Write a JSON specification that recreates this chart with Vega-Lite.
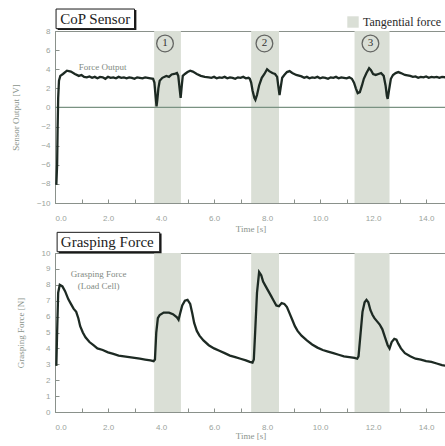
{
"$schema": "https://vega.github.io/schema/vega-lite/v6.json",
"padding": {"left": 10, "top": 8, "right": 0, "bottom": 0},
"background": "white",
"spacing": -3,
"config": {
 "view": {"stroke": "#8a918b", "strokeWidth": 1},
 "axis": {"labelFont": "Liberation Sans", "labelFontSize": 8, "labelColor": "#9aa39c", "labelOverlap": false, "titleFont": "Liberation Serif", "titleFontSize": 9, "titleColor": "#8a948c", "titleFontWeight": "normal", "domainColor": "#8a918b", "tickColor": "#8a918b", "grid": false, "tickSize": -4}
},
"datasets": {
 "one": [{}],
 "bands": [{"start": 3.74, "end": 4.75}, {"start": 7.4, "end": 8.45}, {"start": 11.3, "end": 12.62}],
 "marks": [{"t": 4.15, "n": "1"}, {"t": 7.9, "n": "2"}, {"t": 11.9, "n": "3"}],
 "cop": [
  {"t":0.05,"v":-8.1},{"t":0.08,"v":-6},{"t":0.1,"v":-2},{"t":0.12,"v":1},{"t":0.15,"v":2.8},{"t":0.2,"v":3.3},{"t":0.3,"v":3.5},{"t":0.45,"v":3.85},{"t":0.6,"v":3.75},{"t":0.75,"v":3.5},{"t":0.9,"v":3.3},{"t":1.0,"v":3.4},{"t":1.1,"v":3.2},
  {"t":1.2,"v":3.15},{"t":1.3,"v":3.25},{"t":1.4,"v":3.1},{"t":1.5,"v":3.2},{"t":1.6,"v":3.05},{"t":1.7,"v":3.2},{"t":1.8,"v":3.15},{"t":1.9,"v":3.0},{"t":2.0,"v":3.2},{"t":2.1,"v":3.1},{"t":2.2,"v":3.15},{"t":2.3,"v":3.05},{"t":2.4,"v":3.2},{"t":2.5,"v":3.1},{"t":2.6,"v":3.15},{"t":2.7,"v":3.05},{"t":2.8,"v":3.15},{"t":2.9,"v":3.1},{"t":3.0,"v":3.0},{"t":3.1,"v":3.15},{"t":3.2,"v":3.1},{"t":3.3,"v":3.05},{"t":3.4,"v":3.15},{"t":3.5,"v":3.1},{"t":3.6,"v":3.05},{"t":3.7,"v":3.0},
  {"t":3.75,"v":2.6},{"t":3.8,"v":1.0},{"t":3.83,"v":0.1},{"t":3.86,"v":0.8},{"t":3.9,"v":2.0},{"t":3.95,"v":2.8},{"t":4.05,"v":3.1},{"t":4.2,"v":3.3},{"t":4.3,"v":3.2},{"t":4.4,"v":3.45},{"t":4.5,"v":3.5},{"t":4.6,"v":3.6},{"t":4.65,"v":3.3},{"t":4.7,"v":2.0},{"t":4.74,"v":1.0},{"t":4.78,"v":2.2},{"t":4.82,"v":3.3},{"t":4.9,"v":3.5},{"t":5.0,"v":3.7},{"t":5.1,"v":3.85},{"t":5.2,"v":3.75},{"t":5.35,"v":3.5},{"t":5.5,"v":3.3},{"t":5.65,"v":3.2},{"t":5.8,"v":3.15},
  {"t":5.9,"v":3.1},{"t":6.0,"v":3.2},{"t":6.1,"v":3.05},{"t":6.2,"v":3.15},{"t":6.3,"v":3.1},{"t":6.4,"v":3.2},{"t":6.5,"v":3.05},{"t":6.6,"v":3.15},{"t":6.7,"v":3.1},{"t":6.8,"v":3.0},{"t":6.9,"v":3.15},{"t":7.0,"v":3.1},{"t":7.1,"v":3.2},{"t":7.2,"v":3.05},{"t":7.3,"v":3.1},{"t":7.35,"v":3.0},
  {"t":7.4,"v":2.6},{"t":7.45,"v":1.8},{"t":7.52,"v":1.0},{"t":7.56,"v":0.8},{"t":7.62,"v":1.3},{"t":7.7,"v":2.3},{"t":7.8,"v":3.1},{"t":7.9,"v":3.5},{"t":8.0,"v":4.0},{"t":8.08,"v":3.8},{"t":8.2,"v":3.6},{"t":8.3,"v":3.5},{"t":8.38,"v":3.2},{"t":8.42,"v":2.3},{"t":8.47,"v":1.3},{"t":8.52,"v":2.2},{"t":8.57,"v":3.1},{"t":8.65,"v":3.4},{"t":8.75,"v":3.7},{"t":8.85,"v":3.8},{"t":8.95,"v":3.6},{"t":9.1,"v":3.4},{"t":9.3,"v":3.25},
  {"t":9.4,"v":3.1},{"t":9.5,"v":3.2},{"t":9.6,"v":3.05},{"t":9.7,"v":3.15},{"t":9.8,"v":3.1},{"t":9.9,"v":3.2},{"t":10.0,"v":3.05},{"t":10.1,"v":3.15},{"t":10.2,"v":3.1},{"t":10.3,"v":3.0},{"t":10.4,"v":3.15},{"t":10.5,"v":3.1},{"t":10.6,"v":3.2},{"t":10.7,"v":3.05},{"t":10.8,"v":3.15},{"t":10.9,"v":3.1},{"t":11.0,"v":3.05},{"t":11.1,"v":3.15},{"t":11.2,"v":3.0},
  {"t":11.28,"v":2.6},{"t":11.35,"v":2.0},{"t":11.42,"v":1.5},{"t":11.5,"v":1.6},{"t":11.58,"v":2.3},{"t":11.65,"v":3.0},{"t":11.75,"v":3.6},{"t":11.85,"v":4.1},{"t":11.92,"v":3.9},{"t":12.0,"v":3.5},{"t":12.1,"v":3.4},{"t":12.2,"v":3.5},{"t":12.3,"v":3.6},{"t":12.4,"v":3.3},{"t":12.47,"v":2.3},{"t":12.52,"v":1.2},{"t":12.55,"v":0.9},{"t":12.6,"v":1.8},{"t":12.67,"v":3.0},{"t":12.75,"v":3.4},{"t":12.85,"v":3.6},{"t":12.95,"v":3.7},{"t":13.05,"v":3.6},{"t":13.2,"v":3.4},{"t":13.4,"v":3.3},
  {"t":13.5,"v":3.2},{"t":13.6,"v":3.25},{"t":13.7,"v":3.1},{"t":13.8,"v":3.2},{"t":13.9,"v":3.15},{"t":14.0,"v":3.25},{"t":14.1,"v":3.1},{"t":14.2,"v":3.2},{"t":14.3,"v":3.15},{"t":14.4,"v":3.2},{"t":14.5,"v":3.1},{"t":14.6,"v":3.2},{"t":14.75,"v":3.15}
 ],
 "grasp": [
  {"t":0.05,"v":2.9},{"t":0.08,"v":5},{"t":0.12,"v":7.5},{"t":0.18,"v":8.0},{"t":0.28,"v":7.9},{"t":0.38,"v":7.6},{"t":0.5,"v":7.1},{"t":0.6,"v":6.8},{"t":0.7,"v":6.5},{"t":0.8,"v":6.3},{"t":0.88,"v":5.9},{"t":0.95,"v":5.4},{"t":1.05,"v":5.0},{"t":1.15,"v":4.7},{"t":1.3,"v":4.4},{"t":1.45,"v":4.2},{"t":1.6,"v":4.0},{"t":1.8,"v":3.9},{"t":2.0,"v":3.75},{"t":2.2,"v":3.65},{"t":2.4,"v":3.55},{"t":2.6,"v":3.5},{"t":2.8,"v":3.45},{"t":3.0,"v":3.4},{"t":3.2,"v":3.35},{"t":3.4,"v":3.3},{"t":3.6,"v":3.25},{"t":3.72,"v":3.2},
  {"t":3.77,"v":3.3},{"t":3.82,"v":5.0},{"t":3.88,"v":5.9},{"t":3.95,"v":6.1},{"t":4.1,"v":6.25},{"t":4.3,"v":6.25},{"t":4.45,"v":6.15},{"t":4.6,"v":5.95},{"t":4.66,"v":5.8},{"t":4.72,"v":6.2},{"t":4.8,"v":6.7},{"t":4.9,"v":7.0},{"t":5.0,"v":7.05},{"t":5.1,"v":6.8},{"t":5.18,"v":6.2},{"t":5.25,"v":5.6},{"t":5.35,"v":5.1},{"t":5.45,"v":4.8},{"t":5.6,"v":4.5},{"t":5.8,"v":4.2},{"t":6.0,"v":4.0},{"t":6.2,"v":3.85},{"t":6.4,"v":3.7},{"t":6.6,"v":3.55},{"t":6.8,"v":3.45},{"t":7.0,"v":3.35},{"t":7.2,"v":3.25},{"t":7.35,"v":3.15},{"t":7.45,"v":3.1},
  {"t":7.5,"v":3.3},{"t":7.55,"v":5.0},{"t":7.62,"v":7.5},{"t":7.7,"v":8.8},{"t":7.78,"v":8.6},{"t":7.85,"v":8.2},{"t":7.95,"v":7.9},{"t":8.05,"v":7.6},{"t":8.15,"v":7.3},{"t":8.25,"v":7.0},{"t":8.35,"v":6.7},{"t":8.45,"v":6.65},{"t":8.55,"v":6.85},{"t":8.65,"v":6.8},{"t":8.75,"v":6.6},{"t":8.85,"v":6.2},{"t":8.95,"v":5.8},{"t":9.05,"v":5.4},{"t":9.15,"v":5.1},{"t":9.3,"v":4.8},{"t":9.5,"v":4.5},{"t":9.7,"v":4.25},{"t":9.9,"v":4.05},{"t":10.1,"v":3.9},{"t":10.3,"v":3.8},{"t":10.5,"v":3.7},{"t":10.7,"v":3.6},{"t":10.9,"v":3.5},{"t":11.1,"v":3.45},{"t":11.3,"v":3.4},{"t":11.4,"v":3.35},
  {"t":11.45,"v":3.5},{"t":11.52,"v":4.8},{"t":11.6,"v":6.3},{"t":11.68,"v":6.9},{"t":11.75,"v":7.05},{"t":11.82,"v":6.9},{"t":11.9,"v":6.4},{"t":11.98,"v":6.1},{"t":12.05,"v":5.9},{"t":12.15,"v":5.7},{"t":12.25,"v":5.5},{"t":12.35,"v":5.2},{"t":12.45,"v":4.7},{"t":12.55,"v":4.2},{"t":12.62,"v":4.0},{"t":12.7,"v":4.4},{"t":12.8,"v":4.6},{"t":12.88,"v":4.55},{"t":12.95,"v":4.3},{"t":13.05,"v":4.0},{"t":13.2,"v":3.7},{"t":13.4,"v":3.5},{"t":13.6,"v":3.35},{"t":13.8,"v":3.3},{"t":14.0,"v":3.2},{"t":14.2,"v":3.15},{"t":14.4,"v":3.05},{"t":14.6,"v":2.95},{"t":14.75,"v":2.9}
 ]
},
"vconcat": [
 {
  "width": 391, "height": 172,
  "encoding": {
   "x": {"type": "quantitative", "scale": {"domain": [0, 14.75], "nice": false},
    "axis": {"title": "Time [s]", "values": [0,1,2,3,4,5,6,7,8,9,10,11,12,13,14], "format": ".1f", "labelExpr": "datum.value % 2 == 0 ? datum.label : ''", "labelOverlap": false, "tickSize": -4, "labelPadding": 15, "titlePadding": 2}},
   "y": {"type": "quantitative", "scale": {"domain": [-10, 8], "nice": false},
    "axis": {"title": "Sensor Output [V]", "values": [-10,-8,-6,-4,-2,0,2,4,6,8], "labelOverlap": false, "tickSize": -4, "labelPadding": 9, "titlePadding": 16}}
  },
  "layer": [
   {"data": {"name": "bands"}, "mark": {"type": "rect"},
    "encoding": {
     "x": {"field": "start"},
     "x2": {"field": "end"},
     "y": null,
     "color": {"datum": "Tangential force", "type": "nominal", "scale": {"range": ["#dadfd6"]},
      "legend": {"title": null, "orient": "none", "legendX": 292, "legendY": -15, "padding": 0, "symbolType": "square", "symbolSize": 130, "symbolStrokeWidth": 0, "labelFont": "Liberation Serif", "labelFontSize": 12, "labelColor": "#2a2a2a"}}
    }},
   {"data": {"name": "one"}, "mark": {"type": "rule", "color": "#7a9282", "strokeWidth": 1.3}, "encoding": {"x": null, "y": {"datum": 0}}},
   {"data": {"name": "cop"}, "mark": {"type": "line", "color": "#1d2a23", "strokeWidth": 2.3},
    "encoding": {"x": {"field": "t"}, "y": {"field": "v"}}},
   {"data": {"name": "marks"}, "mark": {"type": "point", "shape": "circle", "size": 280, "filled": false, "stroke": "#333333", "strokeWidth": 1.3},
    "encoding": {"x": {"field": "t"}, "y": {"datum": 6.7}}},
   {"data": {"name": "marks"}, "mark": {"type": "text", "font": "Liberation Serif", "fontSize": 11, "color": "#333333", "baseline": "middle"},
    "encoding": {"x": {"field": "t"}, "y": {"datum": 6.7}, "text": {"field": "n"}}},
   {"data": {"name": "one"}, "mark": {"type": "text", "text": "Force Output", "font": "Liberation Serif", "fontSize": 9, "color": "#7f8a82", "baseline": "middle"},
    "encoding": {"x": {"datum": 1.8}, "y": {"datum": 4.25}}},
   {"data": {"name": "one"}, "mark": {"type": "rect", "fill": "#1a1a1a"},
    "encoding": {"x": {"datum": 0.1}, "x2": {"datum": 3.07}, "y": {"datum": 8.1}, "y2": {"datum": 10.2}}},
   {"data": {"name": "one"}, "mark": {"type": "rect", "fill": "white", "stroke": "#1a1a1a", "strokeWidth": 1},
    "encoding": {"x": {"datum": 0.04}, "x2": {"datum": 3.0}, "y": {"datum": 8.25}, "y2": {"datum": 10.3}}},
   {"data": {"name": "one"}, "mark": {"type": "text", "text": "CoP Sensor", "font": "Liberation Serif", "fontSize": 15, "color": "#222222", "align": "left", "baseline": "middle"},
    "encoding": {"x": {"datum": 0.2}, "y": {"datum": 9.3}}}
  ]
 },
 {
  "width": 391, "height": 159,
  "encoding": {
   "x": {"type": "quantitative", "scale": {"domain": [0, 14.75], "nice": false},
    "axis": {"title": "Time [s]", "values": [0,1,2,3,4,5,6,7,8,9,10,11,12,13,14], "format": ".1f", "labelExpr": "datum.value % 2 == 0 ? datum.label : ''", "labelOverlap": false, "tickSize": -4, "labelPadding": 15, "titlePadding": 0}},
   "y": {"type": "quantitative", "scale": {"domain": [0, 10], "nice": false},
    "axis": {"title": "Grasping Force [N]", "values": [0,1,2,3,4,5,6,7,8,9,10], "labelOverlap": false, "tickSize": -4, "labelPadding": 9, "titlePadding": 16}}
  },
  "layer": [
   {"data": {"name": "bands"}, "mark": {"type": "rect", "color": "#dadfd6"},
    "encoding": {"x": {"field": "start"}, "x2": {"field": "end"}, "y": null}},
   {"data": {"name": "grasp"}, "mark": {"type": "line", "color": "#1d2a23", "strokeWidth": 2.3},
    "encoding": {"x": {"field": "t"}, "y": {"field": "v"}}},
   {"data": {"name": "one"}, "mark": {"type": "text", "text": ["Grasping Force", "(Load Cell)"], "font": "Liberation Serif", "fontSize": 9, "color": "#7f8a82", "baseline": "middle", "lineHeight": 12},
    "encoding": {"x": {"datum": 1.65}, "y": {"datum": 8.7}}},
   {"data": {"name": "one"}, "mark": {"type": "rect", "fill": "#1a1a1a"},
    "encoding": {"x": {"datum": 0.14}, "x2": {"datum": 4.02}, "y": {"datum": 9.98}, "y2": {"datum": 11.22}}},
   {"data": {"name": "one"}, "mark": {"type": "rect", "fill": "white", "stroke": "#1a1a1a", "strokeWidth": 1},
    "encoding": {"x": {"datum": 0.08}, "x2": {"datum": 3.95}, "y": {"datum": 10.08}, "y2": {"datum": 11.3}}},
   {"data": {"name": "one"}, "mark": {"type": "text", "text": "Grasping Force", "font": "Liberation Serif", "fontSize": 15, "color": "#222222", "align": "left", "baseline": "middle"},
    "encoding": {"x": {"datum": 0.22}, "y": {"datum": 10.68}}}
  ]
 }
]
}
